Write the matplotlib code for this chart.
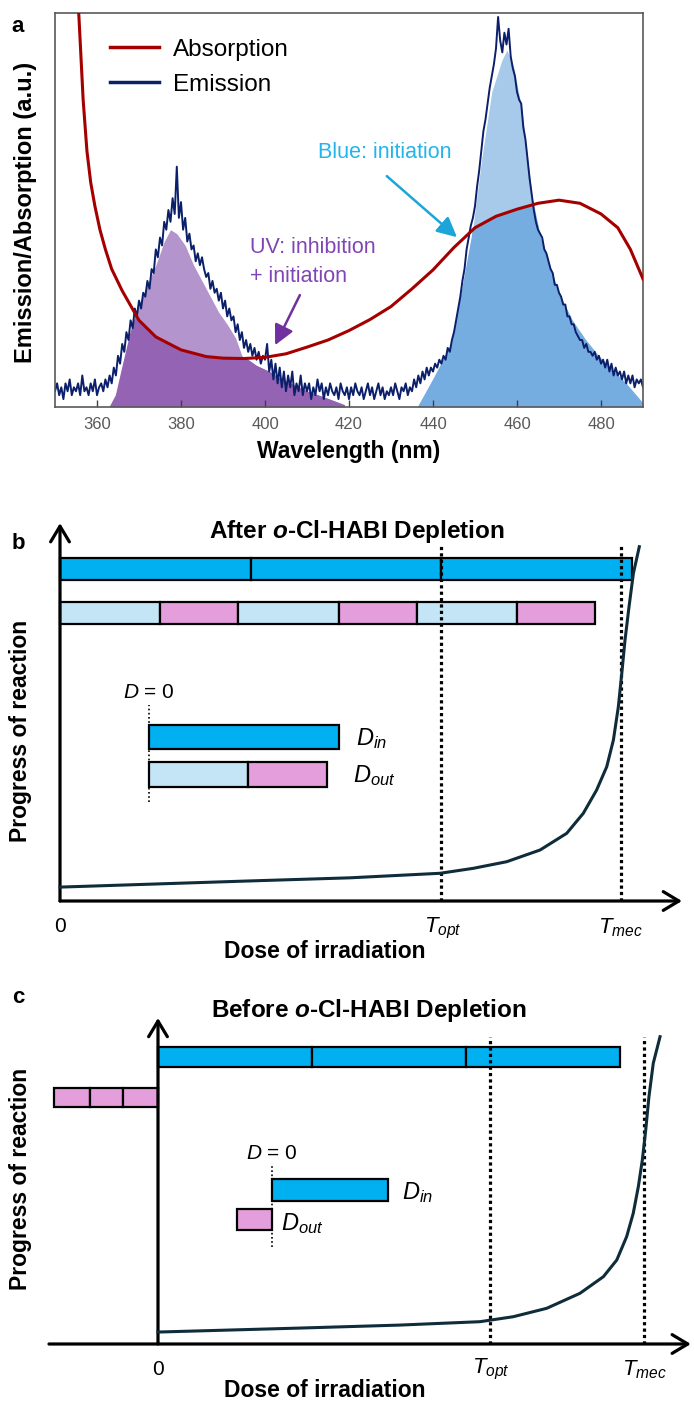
import numpy as np
import matplotlib
matplotlib.use('Agg')
import matplotlib.pyplot as plt
from matplotlib.lines import Line2D

plt.rcParams['font.family'] = ['Liberation Sans', 'DejaVu Sans']
plt.rcParams['mathtext.fontset'] = 'custom'
plt.rcParams['mathtext.rm'] = 'Liberation Sans'
plt.rcParams['mathtext.it'] = 'Liberation Sans:italic'
plt.rcParams['mathtext.bf'] = 'Liberation Sans:bold'
plt.rcParams['mathtext.bfit'] = 'Liberation Sans:italic:bold'

# ---------------- panel a data ----------------
# absorption curve (normalised a.u.)
abs_wl = [355.0, 355.7, 356.7, 357.6, 358.5, 359.5, 360.7, 362.0, 363.5, 366.0,
          370.0, 374.0, 380.0, 386.0, 390.0, 395.0, 400.0, 405.0, 410.0, 415.0,
          420.0, 425.0, 430.0, 435.0, 440.0, 445.0, 450.0, 455.0, 460.0, 465.0,
          470.0, 475.0, 480.0, 484.0, 487.0, 490.0]
abs_val = [1.10, 0.99, 0.78, 0.65, 0.57, 0.51, 0.45, 0.40, 0.35, 0.295,
           0.22, 0.178, 0.145, 0.128, 0.124, 0.123, 0.126, 0.135, 0.152, 0.17,
           0.194, 0.222, 0.255, 0.30, 0.348, 0.405, 0.455, 0.484, 0.502, 0.517,
           0.525, 0.517, 0.49, 0.455, 0.40, 0.325]

# emission spectrum, 0.5 nm steps from 350 to 490 nm (percent of max)
em_wl = np.arange(350, 490.01, 0.5)
em_pct = [
    4, 6, 3, 5, 2, 6, 4, 7, 3, 5, 4, 6, 3, 8, 4, 5, 3, 6, 4, 7,            # 350
    3, 5, 6, 4, 7, 5, 8, 6, 10, 8, 13, 11, 16, 14, 19, 17, 22, 20, 25, 23,  # 360
    27, 25, 29, 28, 32, 30, 35, 34, 40, 38, 43, 41, 47, 45, 50, 47, 53, 49, 61, 48,  # 370
    52, 45, 48, 42, 44, 40, 41, 37, 39, 36, 38, 35, 33, 34, 30, 32, 29, 30, 27, 29,  # 380
    25, 27, 23, 25, 22, 23, 19, 21, 17, 19, 15, 17, 14, 16, 13, 15, 12, 14, 11, 13,  # 390
    12, 16, 9, 12, 7, 11, 6, 10, 5, 9, 4, 8, 5, 9, 3, 6, 4, 8, 3, 6,       # 400
    4, 6, 2, 5, 3, 7, 4, 6, 2, 5, 3, 6, 4, 3, 5, 2, 6, 4, 3, 5,            # 410
    2, 5, 3, 6, 4, 3, 5, 2, 4, 6, 3, 5, 2, 4, 6, 3, 5, 2, 4, 3,            # 420
    5, 3, 6, 4, 2, 5, 4, 6, 3, 5, 4, 7, 5, 8, 6, 9, 7, 10, 8, 10,          # 430
    9, 11, 10, 12, 11, 13, 12, 15, 14, 17, 19, 22, 25, 28, 32, 35, 40, 43, 46, 48,  # 440
    51, 56, 60, 65, 70, 73, 77, 81, 84, 87, 91, 99, 93, 90, 95, 92, 96, 89, 86, 84,  # 450
    80, 78, 77, 71, 68, 63, 58, 54, 50, 47, 45, 44, 43, 40, 39, 37, 35, 34, 31, 31,  # 460
    29, 28, 26, 26, 23, 23, 21, 21, 19, 18, 17, 17, 15, 16, 14, 14, 13, 14, 12, 13,  # 470
    11, 12, 10, 12, 9, 11, 8, 10, 8, 9, 7, 9, 6, 8, 6, 8, 5, 7, 6, 7,      # 480
    5]
em_val = np.array(em_pct) / 100.0

# smooth emission envelopes used for the shaded areas
uv_env_wl = [363.0, 364.5, 366.0, 368.0, 370.0, 372.0, 374.0, 376.0, 377.5, 379.0,
             381.0, 383.0, 385.0, 387.0, 389.0, 391.0, 393.0, 394.5, 396.0, 398.0,
             401.0, 404.0, 407.0, 410.0, 414.0, 419.0]
uv_env = [0.0, 0.03, 0.10, 0.19, 0.26, 0.31, 0.36, 0.42, 0.45, 0.44,
          0.41, 0.36, 0.32, 0.28, 0.24, 0.21, 0.175, 0.13, 0.12, 0.105,
          0.09, 0.07, 0.055, 0.04, 0.025, 0.005]
bl_env_wl = [436.4, 440.4, 444.4, 446.8, 449.2, 451.6, 454.0, 456.4, 457.6, 459.2,
             461.2, 463.6, 465.6, 467.6, 470.0, 473.2, 476.4, 479.6, 482.8, 486.0,
             489.2, 490.0]
bl_env = [0.0, 0.077, 0.16, 0.29, 0.43, 0.63, 0.80, 0.88, 0.906, 0.864,
          0.754, 0.534, 0.432, 0.365, 0.289, 0.22, 0.17, 0.128, 0.094, 0.06,
          0.02, 0.01]

# ---------------- panel b data (dose units) ----------------
b_blue = [1.0, 1.0, 1.0]
b_mixed = [0.525, 0.412, 0.525, 0.412, 0.525, 0.412]
b_t_marks = [2.0, 2.945]
b_din = [1.0]
b_dout = [0.52, 0.415]
b_d0 = 0.467
b_curve_d = [0, 0.997, 1.52, 1.995, 2.170, 2.345, 2.520, 2.660, 2.747, 2.817, 2.870,
             2.905, 2.931, 2.949, 2.966, 2.987, 3.010, 3.041]
b_curve_p = [0.036, 0.052, 0.060, 0.0718, 0.0847, 0.1018, 0.1321, 0.1754, 0.2272, 0.2876, 0.3479,
             0.4171, 0.5034, 0.5899, 0.6762, 0.7624, 0.8490, 0.9179]

# ---------------- panel c data (dose units) ----------------
c_blue = [1.0, 1.0, 1.0]
c_pink = [0.234, 0.214, 0.227]
c_t_marks = [2.156, 3.156]
c_din = [0.753]
c_dout = [0.227]
c_d0 = 0.740
c_curve_d = [0, 0.922, 1.571, 2.091, 2.307, 2.524, 2.740, 2.892, 2.979, 3.043, 3.086,
             3.119, 3.145, 3.167, 3.188, 3.216, 3.260]
c_curve_p = [0.036, 0.048, 0.057, 0.0672, 0.0822, 0.1075, 0.1527, 0.2027, 0.2530, 0.3232, 0.3937,
             0.4738, 0.5542, 0.6446, 0.7449, 0.8455, 0.9256]

RED = '#A50000'
NAVY = '#0B1F6B'
LIGHT_PURPLE = '#B394CC'
DARK_PURPLE = '#9463B3'
LIGHT_BLUE_FILL = '#A7C9EA'
DARK_BLUE_FILL = '#76ADE1'
BAR_BLUE = '#00B0F0'
BAR_LIGHT = '#C3E5F5'
BAR_PINK = '#E59EDC'
CURVE = '#0F2C3B'

W, H = 694, 1401


def px_rect(l, t, r, b):
    return [l / W, 1 - b / H, (r - l) / W, (b - t) / H]


def seg_bar(ax, widths, colors, y, h, start):
    lefts = start + np.concatenate([[0], np.cumsum(widths)[:-1]])
    ax.barh(y, widths, left=lefts, height=h, color=colors,
            edgecolor='black', linewidth=1.6, zorder=3)


def axis_arrow(ax, start, tip):
    ax.annotate('', xy=tip, xytext=start,
                arrowprops=dict(arrowstyle='->,head_length=0.45,head_width=0.27',
                                lw=2.3, color='black', mutation_scale=25,
                                shrinkA=0, shrinkB=0), zorder=4)


fig = plt.figure(figsize=(W / 100, H / 100), dpi=100)

# ================= panel a =================
ax = fig.add_axes(px_rect(55, 13, 643, 407))
uv_fill = ax.fill_between(uv_env_wl, 0, uv_env, color=LIGHT_PURPLE, lw=0, zorder=1)
uv_dark = ax.fill_between(abs_wl, 0, abs_val, color=DARK_PURPLE, lw=0, zorder=1.5)
uv_dark.set_clip_path(uv_fill.get_paths()[0], ax.transData)
bl_fill = ax.fill_between(bl_env_wl, 0, bl_env, color=LIGHT_BLUE_FILL, lw=0, zorder=1)
bl_dark = ax.fill_between(abs_wl, 0, abs_val, color=DARK_BLUE_FILL, lw=0, zorder=1.5)
bl_dark.set_clip_path(bl_fill.get_paths()[0], ax.transData)

ax.plot(em_wl, em_val, color=NAVY, lw=1.4, zorder=2)
ax.plot(abs_wl, abs_val, color=RED, lw=2.2, zorder=3, solid_joinstyle='round')

ax.set_xlim(350, 490)
ax.set_ylim(0, 1)
ax.set_xticks(range(360, 481, 20))
ax.set_yticks([])
ax.tick_params(axis='x', direction='in', length=5, width=1, color='#404040',
               labelcolor='#595959', labelsize=12, pad=7)
for sp in ax.spines.values():
    sp.set_color('#595959')
    sp.set_linewidth(1.2)
ax.set_xlabel('Wavelength (nm)', fontsize=16.5, fontweight='bold', labelpad=6)
ax.text(-0.051, 0.494, 'Emission/Absorption (a.u.)', rotation=90, transform=ax.transAxes,
        ha='center', va='center', fontsize=17, fontweight='bold')

handles = [Line2D([], [], color=RED, lw=2.5), Line2D([], [], color=NAVY, lw=2.5)]
ax.legend(handles, ['Absorption', 'Emission'], loc='upper left', bbox_to_anchor=(0.0935, 0.935),
          frameon=False, fontsize=17.5, handlelength=2.0, handletextpad=0.6,
          labelspacing=0.55, borderpad=0, borderaxespad=0)

ax.text(412.6, 0.647, 'Blue: initiation', color='#22B5EB', fontsize=15.5, ha='left', va='center')
ax.annotate('', xy=(445.7, 0.431), xytext=(429.0, 0.586),
            arrowprops=dict(arrowstyle='-|>,head_length=0.6,head_width=0.3', color='#1BA5D8',
                            lw=1.8, mutation_scale=20, shrinkA=0, shrinkB=0))
ax.text(396.4, 0.406, 'UV: inhibition', color='#8045B5', fontsize=15.5, va='center')
ax.text(396.4, 0.332, '+ initiation', color='#8045B5', fontsize=15.5, va='center')
ax.annotate('', xy=(402.4, 0.157), xytext=(408.3, 0.284),
            arrowprops=dict(arrowstyle='-|>,head_length=0.6,head_width=0.3', color='#7030A0',
                            lw=1.8, mutation_scale=20, shrinkA=0, shrinkB=0))
fig.text(18 / W, 1 - 27 / H, 'a', fontsize=16, fontweight='bold', ha='center', va='center')

# ================= panel b =================
bx = fig.add_axes(px_rect(0, 480, 694, 965))
bx.axis('off')
bx.set_xlim(-60 / 190.5, 634 / 190.5)
bx.set_ylim(-64 / 386, 421 / 386)

seg_bar(bx, b_blue, BAR_BLUE, 0.860, 0.057, 0)
seg_bar(bx, b_mixed, [BAR_LIGHT, BAR_PINK] * 3, 0.746, 0.057, 0)
seg_bar(bx, b_din, BAR_BLUE, 0.425, 0.062, b_d0)
seg_bar(bx, b_dout, [BAR_LIGHT, BAR_PINK], 0.328, 0.065, b_d0)
bx.vlines(b_t_marks, 0, 0.922, colors='black', lw=2.3, linestyles=(0, (1, 1)), zorder=4)
bx.vlines([b_d0], 0.256, 0.508, colors='black', lw=1.2, linestyles=(0, (1, 1.5)), zorder=2)
bx.plot(b_curve_d, b_curve_p, color=CURVE, lw=2.2, zorder=5, solid_joinstyle='round')
axis_arrow(bx, (0, 0), (0, 0.979))
axis_arrow(bx, (0, 0), (3.265, 0))

bx.text(-0.2205, 0.927, 'b', fontsize=16, fontweight='bold', ha='center', va='center')
bx.text(1.559, 0.956, r'After $\mathbfit{o}$-Cl-HABI Depletion', fontsize=17.5, fontweight='bold',
        ha='center', va='center')
bx.text(-0.205, 0.440, 'Progress of reaction', rotation=90, fontsize=16.5, fontweight='bold',
        ha='center', va='center')
bx.text(0, -0.067, '0', fontsize=15, ha='center', va='center')
bx.text(2.01, -0.070, r'$T_{opt}$', fontsize=16, ha='center', va='center')
bx.text(2.94, -0.070, r'$T_{mec}$', fontsize=16, ha='center', va='center')
bx.text(1.391, -0.132, 'Dose of irradiation', fontsize=16.5, fontweight='bold', ha='center', va='center')
bx.text(b_d0, 0.541, r'$D$ = 0', fontsize=15, ha='center', va='center')
bx.text(1.554, 0.422, r'$D_{in}$', fontsize=17, ha='left', va='center')
bx.text(1.538, 0.326, r'$D_{out}$', fontsize=17, ha='left', va='center')

# ================= panel c =================
cx = fig.add_axes(px_rect(0, 965, 694, 1401))
cx.axis('off')
cx.set_xlim(-158 / 154, 536 / 154)
cx.set_ylim(-57 / 332, 379 / 332)

seg_bar(cx, c_blue, BAR_BLUE, 0.8645, 0.060, 0)
seg_bar(cx, c_pink, BAR_PINK, 0.7425, 0.057, -sum(c_pink))
seg_bar(cx, c_din, BAR_BLUE, 0.464, 0.066, c_d0)
seg_bar(cx, c_dout, BAR_PINK, 0.375, 0.063, c_d0 - sum(c_dout))
cx.vlines(c_t_marks, 0, 0.925, colors='black', lw=2.3, linestyles=(0, (1, 1)), zorder=4)
cx.vlines([c_d0], 0.292, 0.539, colors='black', lw=1.2, linestyles=(0, (1, 1.5)), zorder=2)
cx.plot(c_curve_d, c_curve_p, color=CURVE, lw=2.2, zorder=5, solid_joinstyle='round')
axis_arrow(cx, (0, 0), (0, 0.982))
axis_arrow(cx, (-0.708, 0), (3.46, 0))

cx.text(-0.909, 1.045, 'c', fontsize=16, fontweight='bold', ha='center', va='center')
cx.text(1.370, 1.006, r'Before $\mathbfit{o}$-Cl-HABI Depletion', fontsize=17.5, fontweight='bold',
        ha='center', va='center')
cx.text(-0.890, 0.4985, 'Progress of reaction', rotation=90, fontsize=16.5, fontweight='bold',
        ha='center', va='center')
cx.text(0, -0.078, '0', fontsize=15, ha='center', va='center')
cx.text(2.162, -0.078, r'$T_{opt}$', fontsize=16, ha='center', va='center')
cx.text(3.156, -0.078, r'$T_{mec}$', fontsize=16, ha='center', va='center')
cx.text(1.084, -0.139, 'Dose of irradiation', fontsize=16.5, fontweight='bold', ha='center', va='center')
cx.text(c_d0, 0.575, r'$D$ = 0', fontsize=15, ha='center', va='center')
cx.text(1.584, 0.455, r'$D_{in}$', fontsize=17, ha='left', va='center')
cx.text(0.799, 0.364, r'$D_{out}$', fontsize=17, ha='left', va='center')

fig.savefig('out.png', dpi=100)
